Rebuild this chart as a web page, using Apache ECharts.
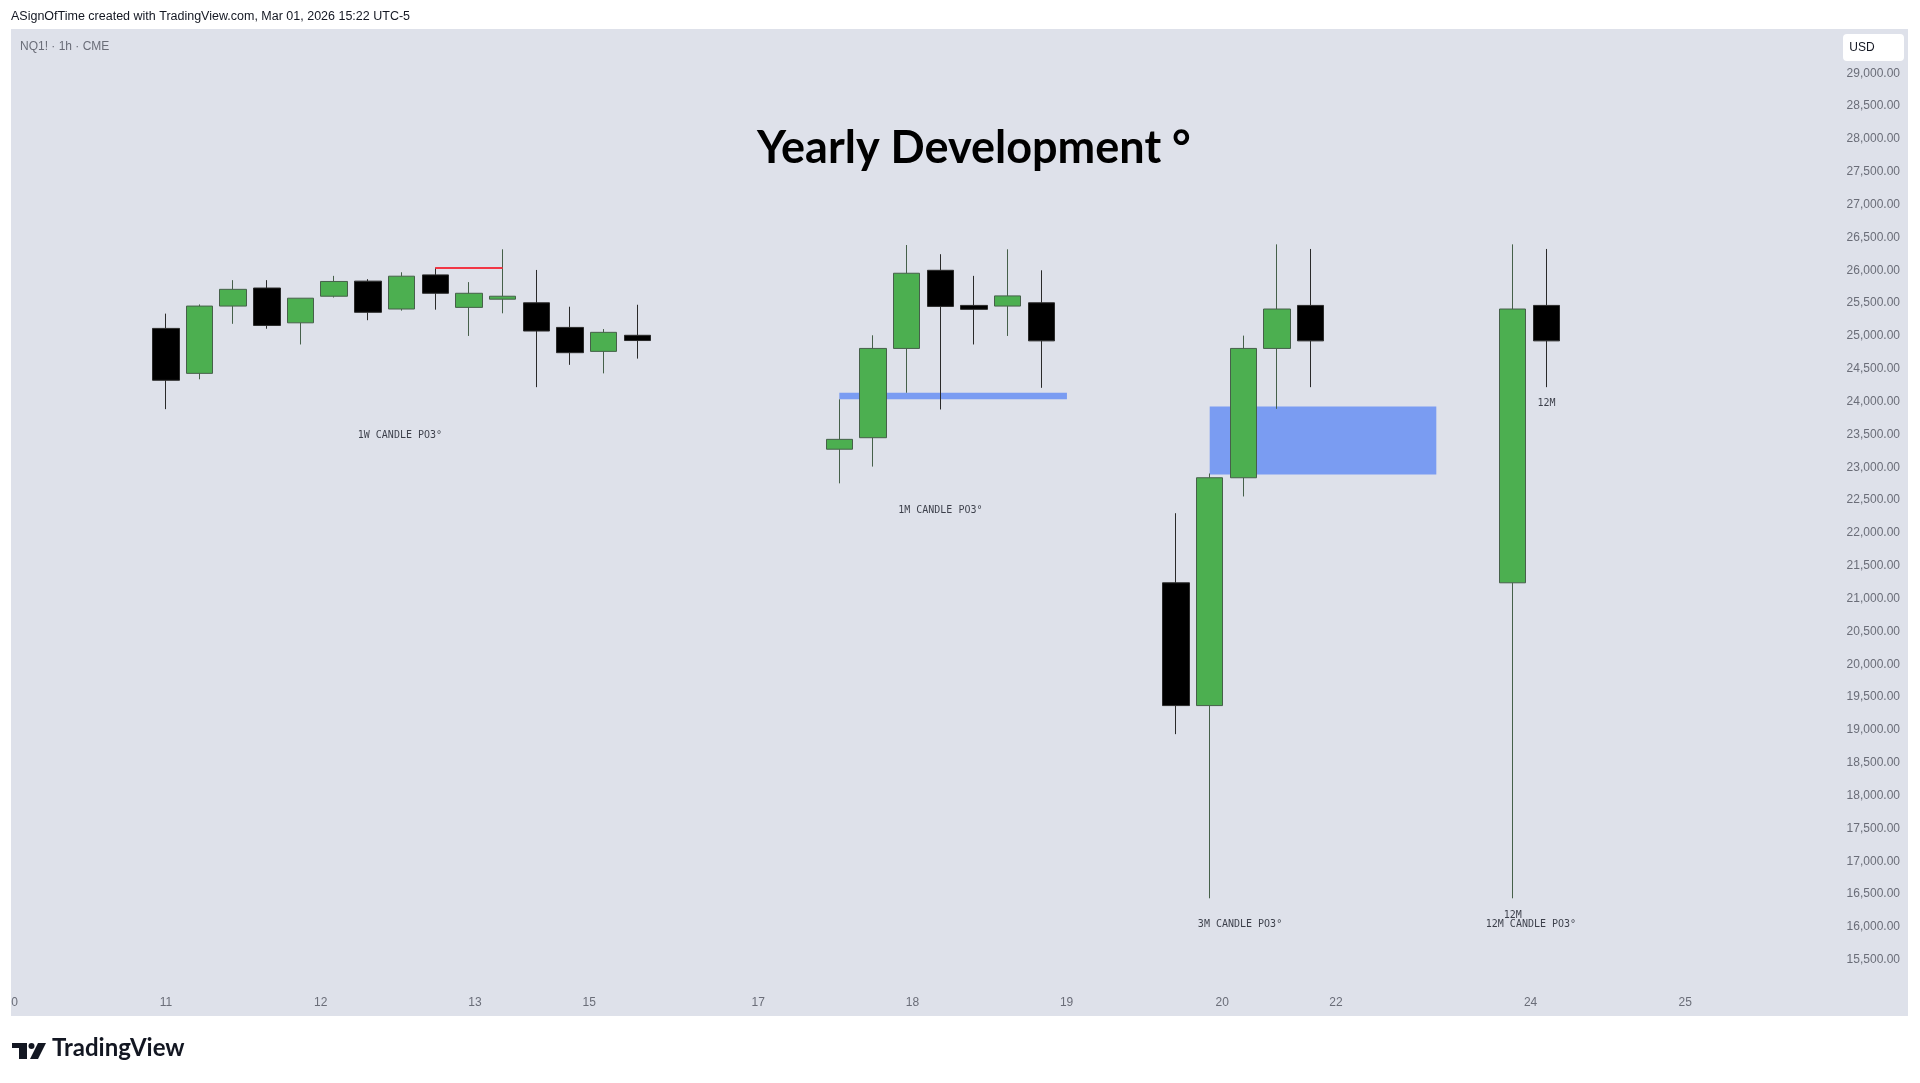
<!DOCTYPE html>
<html>
<head>
<meta charset="utf-8">
<script src="https://cdn.jsdelivr.net/npm/echarts@6/dist/echarts.min.js"></script>
<style>
html,body{margin:0;padding:0;background:#ffffff;}
#chart{width:1920px;height:1083px;}
</style>
</head>
<body>
<div id="chart"></div>
<script>
// ---- Candle data (slot position, open, close, low, high) ----
const candleX = [5,6,7,8,9,10,11,12,13,14,15,16,17,18,19,
                 25,26,27,28,29,30,31,
                 35,36,37,38,39,
                 45,46];
const candleOpen = [25115,24430,25455,25730,25200,25605,25835,25410,25930,25435,25560,25505,25130,24765,25010,
                    23275,23450,24810,26000,25465,25455,25505,
                    21240,19370,22840,24810,25465,
                    21240,25465];
const candleClose = [24325,25455,25710,25160,25575,25830,25360,25910,25650,25650,25605,25075,24745,25055,24930,
                     23425,24810,25955,25450,25405,25610,24925,
                     19370,22840,24810,25410,24925,
                     25410,24925];
const candleLow = [23885,24340,25185,25110,24870,25585,25240,25385,25400,25000,25345,24220,24560,24430,24655,
                   22755,23010,24135,23880,24870,25000,24210,
                   18935,16435,22555,23890,24220,
                   16435,24220];
const candleHigh = [25340,25480,25850,25850,25575,25915,25865,25970,26040,25820,26320,26005,25445,25105,25475,
                    24035,25010,26385,26245,25915,26320,26000,
                    22300,22905,25005,26395,26325,
                    26395,26325];

// ---- Zones (x from, x to, price low, price high) ----
const zoneX1 = [25, 36];
const zoneX2 = [31.76, 42.73];
const zoneLow = [24035, 22890];
const zoneHigh = [24135, 23925];

// ---- Red level line ----
const levelX1 = 13, levelX2 = 15, levelPrice = 26040;

// ---- Annotation texts ----
const annoText = ['1W CANDLE PO3°','1M CANDLE PO3°','3M CANDLE PO3°','12M','12M CANDLE PO3°','12M'];
const annoX = [11.95, 28.0, 36.9, 45.0, 45.54, 46.0];
const annoY = [23490, 22345, 16040, 16175, 16040, 23965];

// ---- Axis ticks ----
const xTickPos = [0.51, 5.0, 9.6, 14.18, 17.57, 22.59, 27.17, 31.75, 36.37, 39.75, 45.53, 50.12];
const xTickText = ['0','11','12','13','15','17','18','19','20','22','24','25'];
const yMin = 15000, yMax = 29500, yStep = 500;

const chart = echarts.init(document.getElementById('chart'), null, {renderer:'canvas'});

const candleData = candleX.map((x,i)=>[x, candleOpen[i], candleClose[i], candleLow[i], candleHigh[i]]);
const zoneData = zoneX1.map((x,i)=>[{coord:[x, zoneLow[i]]},{coord:[zoneX2[i], zoneHigh[i]]}]);
const annoData = annoText.map((t,i)=>({value:[annoX[i], annoY[i]], name:t}));

const option = {
  backgroundColor: '#ffffff',
  animation: false,
  title: {
    text: 'Yearly Development °',
    left: 757, top: 126, padding: 0,
    textStyle: {fontFamily: 'Lato', fontWeight: 'bold', fontSize: 45, color: '#000000'}
  },
  grid: {left: 11, right: 83, top: 40.5, bottom: 90.5, containLabel: false, outerBoundsMode: 'none'},
  xAxis: {
    type: 'value', min: 0.4, max: 54.63,
    axisLine: {show: false}, axisTick: {show: false}, splitLine: {show: false},
    axisLabel: {
      customValues: xTickPos,
      formatter: (v)=>{ const i = xTickPos.findIndex(p=>Math.abs(p-v)<1e-6); return i>=0 ? xTickText[i] : ''; },
      margin: 4, fontSize: 12, fontFamily: 'Liberation Sans', color: '#6a6d78'
    }
  },
  yAxis: {
    type: 'value', position: 'right', min: yMin, max: yMax, interval: yStep, scale: true,
    axisLine: {show: false}, axisTick: {show: false}, splitLine: {show: false},
    axisLabel: {
      showMinLabel: false, showMaxLabel: false,
      formatter: (v)=> v.toLocaleString('en-US',{minimumFractionDigits:2, maximumFractionDigits:2}),
      align: 'right', margin: 63, fontSize: 12, fontFamily: 'Liberation Sans', color: '#6a6d78'
    }
  },
  graphic: [
    {type:'rect', z:-10, silent:true, shape:{x:11, y:29, width:1897, height:987}, style:{fill:'#dee1ea'}},
    {type:'text', left:11, top:10, style:{text:'ASignOfTime created with TradingView.com, Mar 01, 2026 15:22 UTC-5', font:'12.5px "Liberation Sans"', fill:'#131722'}},
    {type:'text', left:20, top:41, style:{text:'NQ1! · 1h · CME', font:'12px "Liberation Sans"', fill:'#6a6d78'}},
    {type:'rect', shape:{x:1843, y:34, width:61, height:27, r:4}, style:{fill:'#ffffff'}},
    {type:'text', x:1862, y:48, style:{text:'USD', font:'12px "Liberation Sans"', fill:'#131722', align:'center', verticalAlign:'middle'}},
    {type:'rect', shape:{x:12, y:1043, width:15, height:5}, style:{fill:'#131722'}},
    {type:'rect', shape:{x:19, y:1043, width:8, height:16}, style:{fill:'#131722'}},
    {type:'circle', shape:{cx:31.5, cy:1046, r:3}, style:{fill:'#131722'}},
    {type:'polygon', shape:{points:[[38,1043],[46,1043],[38,1059],[30,1059]]}, style:{fill:'#131722'}},
    {type:'text', left:52, top:1036, style:{text:'TradingView', font:'bold 24px "Lato"', fill:'#131722'}}
  ],
  series: [
    {
      name: 'zones', type: 'line', data: [], z: 1, silent: true,
      markArea: {silent: true, itemStyle: {color: '#7a9cf2', opacity: 1}, label:{show:false}, data: zoneData},
      markLine: {
        silent: true, symbol: ['none','none'], label: {show: false},
        lineStyle: {color: '#f23645', width: 2, type: 'solid'},
        data: [[{coord:[levelX1, levelPrice]}, {coord:[levelX2, levelPrice]}]]
      }
    },
    {
      name: 'NQ1!', type: 'candlestick', z: 2, barWidth: 27,
      encode: {x: 0, y: [1, 2, 3, 4]},
      data: candleData,
      itemStyle: {color: '#4caf50', color0: '#000000', borderColor: '#46604a', borderColor0: '#2a2a2a', borderWidth: 1},
      emphasis: {disabled: true}
    },
    {
      name: 'notes', type: 'scatter', z: 3, symbolSize: 1, silent: true,
      itemStyle: {color: 'rgba(0,0,0,0)'},
      label: {show: true, position: 'inside', formatter: '{b}', fontFamily: 'DejaVu Sans Mono', fontSize: 10, color: '#131722'},
      data: annoData
    }
  ]
};
chart.setOption(option);
</script>
</body>
</html>
